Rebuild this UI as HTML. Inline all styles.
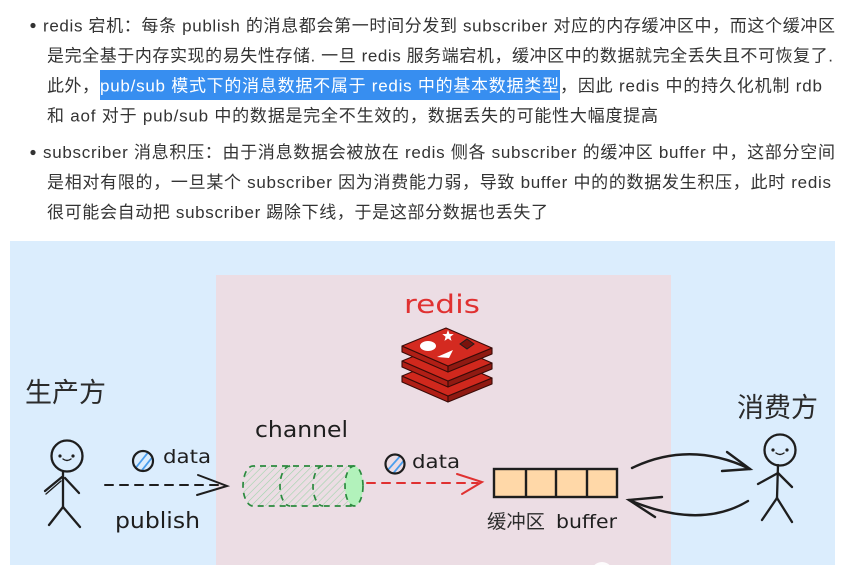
<!DOCTYPE html>
<html><head><meta charset="utf-8"><style>
html,body{margin:0;padding:0;background:#fff;}
svg{display:block;}
.t{font-family:"Liberation Sans","Noto Sans CJK SC",sans-serif;font-size:17px;fill:#333;}
.h{font-family:"DejaVu Sans","Liberation Sans",sans-serif;fill:#1e1e1e;}
.c{font-family:"Liberation Sans","Noto Sans CJK SC",sans-serif;fill:#2b2b2b;}
</style></head><body>
<svg width="842" height="565" viewBox="0 0 842 565" xmlns="http://www.w3.org/2000/svg">
<defs>
<pattern id="hatch" patternUnits="userSpaceOnUse" width="5" height="5" patternTransform="rotate(45)">
<line x1="0" y1="0" x2="0" y2="5" stroke="#9fd3aa" stroke-width="1.2"/>
</pattern>
<clipPath id="c1"><circle cx="143" cy="461" r="10"/></clipPath>
<clipPath id="c2"><circle cx="395" cy="464" r="9.5"/></clipPath>
</defs>
<rect width="842" height="565" fill="#fff"/>

<!-- text -->
<circle cx="33" cy="25.5" r="2.6" fill="#333"/>
<text class="t" x="43" y="31.5" textLength="792" lengthAdjust="spacing">redis 宕机：每条 publish 的消息都会第一时间分发到 subscriber 对应的内存缓冲区中，而这个缓冲区</text>
<text class="t" x="47" y="61.5" textLength="786" lengthAdjust="spacing">是完全基于内存实现的易失性存储. 一旦 redis 服务端宕机，缓冲区中的数据就完全丢失且不可恢复了.</text>
<text class="t" x="47" y="91.5" textLength="52" lengthAdjust="spacing">此外，</text>
<rect x="100" y="70" width="460" height="30" fill="#378ef0"/>
<text class="t" x="100" y="91.5" textLength="459" lengthAdjust="spacing" style="fill:#fff">pub/sub 模式下的消息数据不属于 redis 中的基本数据类型</text>
<text class="t" x="560" y="91.5" textLength="262" lengthAdjust="spacing">，因此 redis 中的持久化机制 rdb</text>
<text class="t" x="47" y="121.5" textLength="611" lengthAdjust="spacing">和 aof 对于 pub/sub 中的数据是完全不生效的，数据丢失的可能性大幅度提高</text>
<circle cx="33" cy="152.5" r="2.6" fill="#333"/>
<text class="t" x="43" y="158" textLength="792" lengthAdjust="spacing">subscriber 消息积压：由于消息数据会被放在 redis 侧各 subscriber 的缓冲区 buffer 中，这部分空间</text>
<text class="t" x="47" y="188" textLength="784" lengthAdjust="spacing">是相对有限的，一旦某个 subscriber 因为消费能力弱，导致 buffer 中的的数据发生积压，此时 redis</text>
<text class="t" x="47" y="218" textLength="501" lengthAdjust="spacing">很可能会自动把 subscriber 踢除下线，于是这部分数据也丢失了</text>

<!-- panels -->
<rect x="10" y="241" width="825" height="324" fill="#dbedfd"/>
<rect x="216" y="275" width="455" height="290" fill="#ecdde4"/>

<!-- labels -->
<text class="c" x="25" y="402" font-size="27" textLength="81" lengthAdjust="spacingAndGlyphs">生产方</text>
<text class="c" x="737" y="417" font-size="27" textLength="81" lengthAdjust="spacingAndGlyphs">消费方</text>

<!-- left stick figure -->
<g stroke="#1e1e1e" stroke-width="2.3" fill="none" stroke-linecap="round">
<circle cx="67" cy="456" r="15.5"/>
<line x1="63" y1="472" x2="63" y2="507"/>
<line x1="62" y1="477" x2="45" y2="491"/>
<line x1="61" y1="481" x2="46" y2="494" stroke-width="1.4"/>
<line x1="65" y1="478" x2="79" y2="493"/>
<line x1="63" y1="507" x2="49" y2="525"/>
<line x1="63" y1="507" x2="80" y2="527"/>
<path d="M63,459 Q67,462 71,459" stroke-width="1.4"/>
</g>
<circle cx="60" cy="456" r="1.6" fill="#1e1e1e"/>
<circle cx="73" cy="456" r="1.6" fill="#1e1e1e"/>

<!-- right stick figure -->
<g stroke="#1e1e1e" stroke-width="2.3" fill="none" stroke-linecap="round">
<circle cx="780" cy="450" r="15.5"/>
<line x1="778" y1="465" x2="777" y2="498"/>
<line x1="778" y1="473" x2="758" y2="484"/>
<line x1="778" y1="473" x2="792" y2="487"/>
<line x1="777" y1="498" x2="762" y2="520"/>
<line x1="777" y1="498" x2="792" y2="522"/>
<path d="M776,453 Q780,456 784,453" stroke-width="1.4"/>
</g>
<circle cx="773" cy="450" r="1.6" fill="#1e1e1e"/>
<circle cx="787" cy="450" r="1.6" fill="#1e1e1e"/>

<!-- publish arrow -->
<g stroke="#1e1e1e" stroke-width="2" fill="none" stroke-linecap="round">
<line x1="105" y1="485" x2="224" y2="485" stroke-dasharray="8 7"/>
<path d="M198,475 L227,486 L197,495"/>
</g>
<g clip-path="url(#c1)" stroke="#4a9eed" stroke-width="1.8">
<line x1="134" y1="470" x2="150" y2="450"/>
<line x1="139" y1="474" x2="154" y2="455"/>
</g>
<circle cx="143" cy="461" r="10" fill="none" stroke="#1e1e1e" stroke-width="2.2"/>
<text class="h" x="163" y="463" font-size="19" textLength="48" lengthAdjust="spacingAndGlyphs">data</text>
<text class="h" x="115" y="528" font-size="22" textLength="85" lengthAdjust="spacingAndGlyphs">publish</text>

<!-- channel -->
<text class="h" x="255" y="437" font-size="22" textLength="93" lengthAdjust="spacingAndGlyphs">channel</text>
<path d="M354,466 L253,466 A10,20 0 0 0 253,506 L354,506 Z" fill="url(#hatch)" stroke="none"/>
<g stroke="#2b8a3e" stroke-width="1.7" fill="none" stroke-dasharray="6 5">
<path d="M354,466 L253,466 A10,20 0 0 0 253,506 L354,506"/>
<path d="M290,466 A10,20 0 0 0 290,506"/>
<path d="M323,466 A10,20 0 0 0 323,506"/>
</g>
<ellipse cx="354" cy="486" rx="9" ry="20" fill="#b2f2bb" stroke="#2b8a3e" stroke-width="1.7" stroke-dasharray="6 5"/>

<!-- red arrow -->
<g stroke="#e03131" stroke-width="2" fill="none" stroke-linecap="round">
<line x1="367" y1="483" x2="478" y2="483" stroke-dasharray="8 7"/>
<path d="M457,474 L482,482 L462,494"/>
</g>
<g clip-path="url(#c2)" stroke="#4a9eed" stroke-width="1.8">
<line x1="386" y1="472" x2="402" y2="454"/>
<line x1="391" y1="476" x2="406" y2="458"/>
</g>
<circle cx="395" cy="464" r="9.5" fill="none" stroke="#1e1e1e" stroke-width="2.2"/>
<text class="h" x="412" y="468" font-size="19" textLength="48" lengthAdjust="spacingAndGlyphs">data</text>

<!-- redis logo -->
<text class="h" x="404" y="313" font-size="26" textLength="76" lengthAdjust="spacingAndGlyphs" style="fill:#e03131">redis</text>
<g stroke="#3a0b08" stroke-width="1.1" stroke-linejoin="round">
<g transform="translate(0,30)">
<path d="M402,346 L448,366 L448,372 L402,352 Z" fill="#b01f16"/>
<path d="M448,366 L492,348 L492,354 L448,372 Z" fill="#8f1a12"/>
<path d="M402,346 L446,328 L492,348 L448,366 Z" fill="#d0281d"/>
</g>
<g transform="translate(0,15)">
<path d="M402,346 L448,366 L448,372 L402,352 Z" fill="#b01f16"/>
<path d="M448,366 L492,348 L492,354 L448,372 Z" fill="#8f1a12"/>
<path d="M402,346 L446,328 L492,348 L448,366 Z" fill="#d0281d"/>
</g>
<path d="M402,346 L448,366 L448,372 L402,352 Z" fill="#b01f16"/>
<path d="M448,366 L492,348 L492,354 L448,372 Z" fill="#8f1a12"/>
<path d="M402,346 L446,328 L492,348 L448,366 Z" fill="#d42a20"/>
</g>
<ellipse cx="428" cy="346" rx="8" ry="5" fill="#fff"/>
<polygon points="448,330 449.5,334 453.7,334.1 450.4,336.8 451.5,340.9 448,338.5 444.5,340.9 445.6,336.8 442.3,334.1 446.5,334" fill="#fff"/>
<polygon points="437,357 453,350 449,358" fill="#fff"/>
<polygon points="467,339 474,344 467,349 460,344" fill="#7a130d" stroke="#1e1e1e" stroke-width="1"/>

<!-- buffer -->
<rect x="494" y="469" width="123" height="28" fill="#ffd8a8" stroke="#1e1e1e" stroke-width="2.4"/>
<g stroke="#1e1e1e" stroke-width="2.4">
<line x1="526" y1="469" x2="526" y2="497"/>
<line x1="556" y1="469" x2="556" y2="497"/>
<line x1="587" y1="469" x2="587" y2="497"/>
</g>
<text class="c" x="487" y="528" font-size="19" textLength="58" lengthAdjust="spacingAndGlyphs">缓冲区</text>
<text class="h" x="556" y="528" font-size="19" textLength="61" lengthAdjust="spacingAndGlyphs">buffer</text>

<!-- curved arrows -->
<g stroke="#1e1e1e" stroke-width="2.4" fill="none" stroke-linecap="round">
<path d="M632,468 Q690,440 750,469"/>
<path d="M727,452 L750,469 L722,471"/>
<path d="M748,501 Q700,530 629,500"/>
<path d="M662,497 L629,500 L655,517"/>
</g>

<circle cx="602" cy="573" r="11" fill="#fff" opacity="0.9"/>
</svg>
</body></html>
